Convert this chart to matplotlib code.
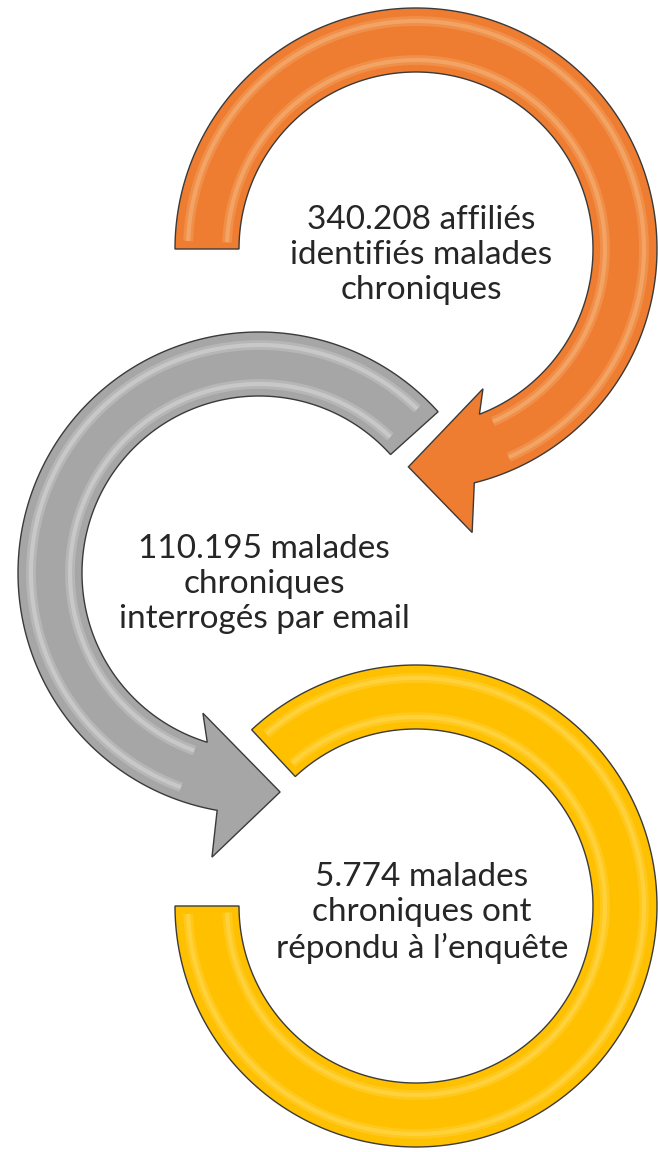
import numpy as np
import matplotlib.pyplot as plt
from matplotlib.patches import Polygon

# text shown inside each ring
counts = ['340.208', '110.195', '5.774']
captions = [
    ['{} affiliés', 'identifiés malades', 'chroniques'],
    ['{} malades', 'chroniques', 'interrogés par email'],
    ['{} malades', 'chroniques ont', 'répondu à l\u2019enquête'],
]

# layout (pixel coords, y downwards)
W, H = 658, 1152
R_OUT, R_IN = 241, 177
centers = [(416, 249), (259, 573), (416, 906)]
text_pos = [(421, 255), (264, 584), (422, 913)]
fills = ['#EE7D31', '#A6A6A6', '#FFC000']
shines = ['#FBD3A0', '#F2F2F2', '#FFE680']
edge = '#3A3A3A'


def pt(c, r, deg):
    a = np.radians(deg)
    return (c[0] + r * np.cos(a), c[1] - r * np.sin(a))


def arc(c, r, a0, a1, n=240):
    a = np.radians(np.linspace(a0, a1, n))
    return list(zip(c[0] + r * np.cos(a), c[1] - r * np.sin(a)))


def shine(ax, c, a0, a1, color):
    for r in (R_OUT - 13, R_IN + 12):
        xy = np.array(arc(c, r, a0, a1))
        ax.plot(xy[:, 0], xy[:, 1], color=color, lw=7, alpha=0.22,
                solid_capstyle='butt', zorder=3)
        ax.plot(xy[:, 0], xy[:, 1], color=color, lw=3, alpha=0.3,
                solid_capstyle='butt', zorder=3)


fig = plt.figure(figsize=(W / 100, H / 100), dpi=100)
ax = fig.add_axes([0, 0, 1, 1])
ax.set_xlim(0, W)
ax.set_ylim(H, 0)
ax.set_aspect('equal')
ax.axis('off')

# gray arrow, counter-clockwise, head at the bottom
c = centers[1]
shape = (arc(c, R_OUT, 42, 260)
         + [pt(c, 288, 260.6), pt(c, 220, 275.5), pt(c, 151, 248.2)]
         + arc(c, R_IN, 253, 42))
ax.add_patch(Polygon(shape, closed=True, fc=fills[1], ec=edge, lw=1, zorder=2))
shine(ax, c, 46, 250, shines[1])

# orange arrow, clockwise, head at the bottom
c = centers[0]
shape = (arc(c, R_OUT, 180, -76)
         + [pt(c, 289, -78.8), pt(c, 218, -92), pt(c, 155, -64.4)]
         + arc(c, R_IN, -69, 180))
ax.add_patch(Polygon(shape, closed=True, fc=fills[0], ec=edge, lw=1, zorder=2))
shine(ax, c, -66, 178, shines[0])

# yellow ring, open at the upper left
c = centers[2]
shape = arc(c, R_OUT, 180, 493) + arc(c, R_IN, 493, 180)
ax.add_patch(Polygon(shape, closed=True, fc=fills[2], ec=edge, lw=1, zorder=2))
shine(ax, c, 182, 491, shines[2])

for n, lines, (x, y) in zip(counts, captions, text_pos):
    txt = '\n'.join(lines).format(n)
    ax.text(x, y, txt, ha='center', va='center', multialignment='center',
            fontsize=24, family='Lato', color='#262626', linespacing=1.22,
            zorder=5)

fig.savefig('out.png', dpi=100)
